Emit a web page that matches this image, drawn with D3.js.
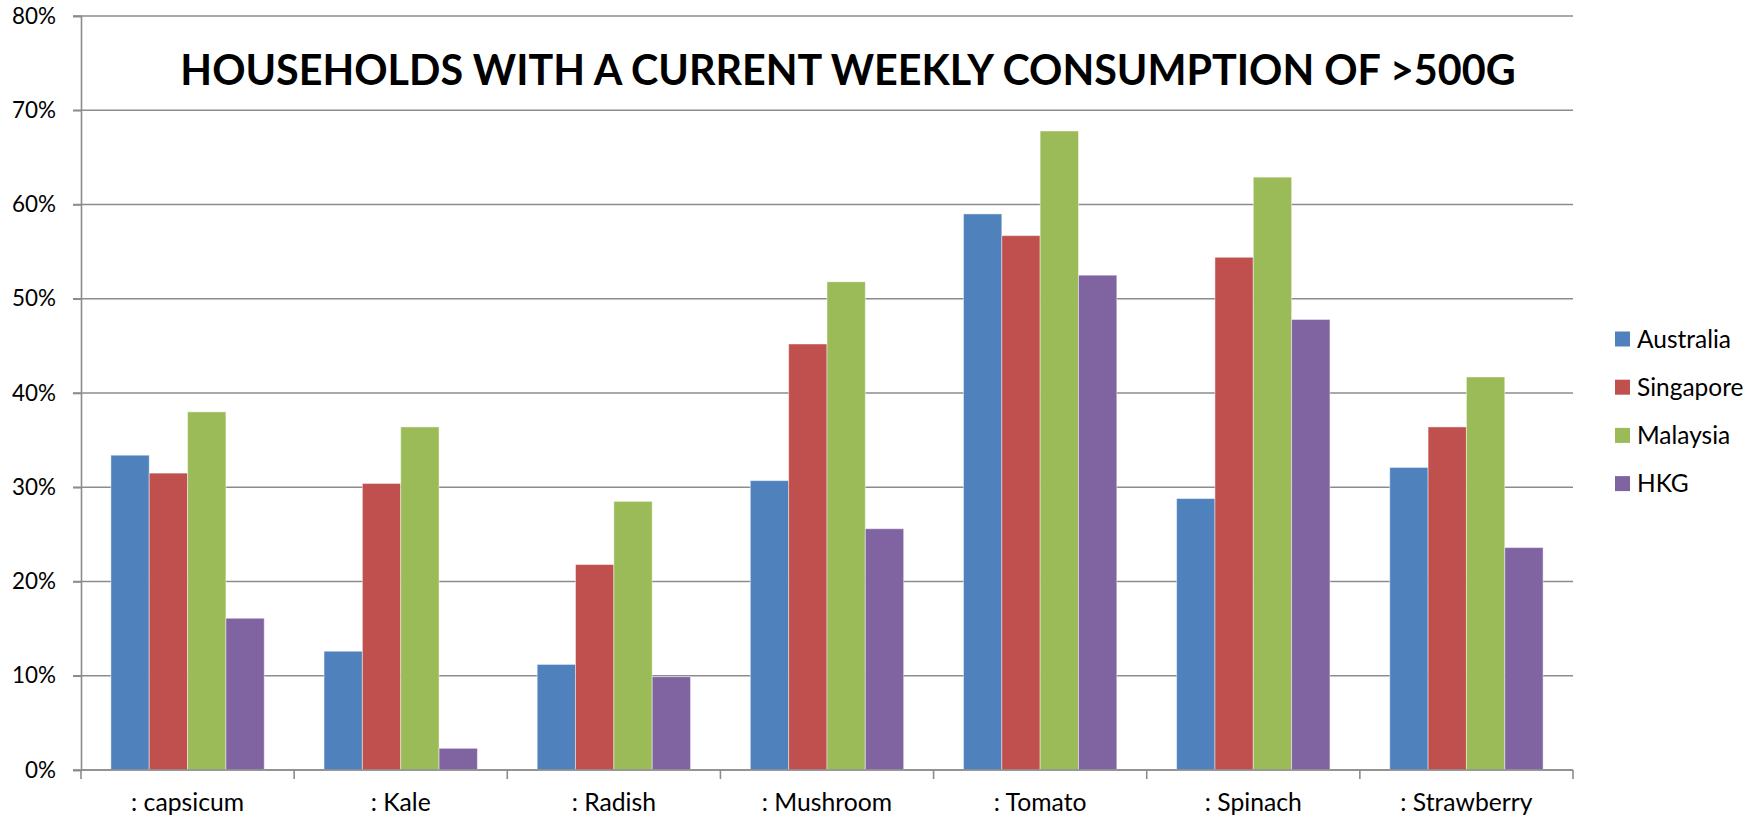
<!DOCTYPE html>
<html>
<head>
<meta charset="utf-8">
<script src="https://cdn.jsdelivr.net/npm/d3@7"></script>
<style>
  html, body { margin: 0; padding: 0; background: #fff; }
  svg { display: block; }
  text { font-family: Lato, "Open Sans", sans-serif; fill: #000; }
</style>
</head>
<body>
<svg id="chart" width="1761" height="818"></svg>
<script>
// Vegetables on the x axis
const categories = [": capsicum", ": Kale", ": Radish", ": Mushroom", ": Tomato", ": Spinach", ": Strawberry"];
// Markets (one bar each per vegetable)
const seriesNames = ["Australia", "Singapore", "Malaysia", "HKG"];
const seriesColors = ["#4F81BD", "#C0504D", "#9BBB59", "#8064A2"];
// Share of households (%) consuming more than 500 g a week
const australia = [33.4, 12.6, 11.2, 30.7, 59.0, 28.8, 32.1];
const singapore = [31.5, 30.4, 21.8, 45.2, 56.7, 54.4, 36.4];
const malaysia  = [38.0, 36.4, 28.5, 51.8, 67.8, 62.9, 41.7];
const hkg       = [16.1, 2.3, 9.9, 25.6, 52.5, 47.8, 23.6];
const yTicks = [0, 10, 20, 30, 40, 50, 60, 70, 80];
const titleText = "HOUSEHOLDS WITH A CURRENT WEEKLY CONSUMPTION OF >500G";

const seriesValues = [australia, singapore, malaysia, hkg];

const svg = d3.select("#chart");
const plot = { left: 81, right: 1573, top: 16, bottom: 770 };
const gridColor = "#8c8c8c";

// font size that makes a sample string span a given width
function fitSize(sample, width, weight) {
  const t = svg.append("text").style("font-size", "20px").style("font-weight", weight || "normal").text(sample);
  const w = t.node().getComputedTextLength();
  t.remove();
  return 20 * width / w;
}
const tickFont = fitSize("80%", 44);
const catFont = fitSize(": capsicum", 113);
const legendFont = fitSize("Australia", 94);
const titleFont = fitSize(titleText, 1336, "bold");

const x = d3.scaleBand().domain(categories).range([plot.left, plot.right]).paddingInner(0).paddingOuter(0);
const xs = d3.scaleBand().domain(seriesNames).range([0, x.bandwidth()]).paddingInner(0).paddingOuter(0.78);
const y = d3.scaleLinear().domain([0, 80]).range([plot.bottom, plot.top]);

// Horizontal gridlines (with the short tick stub left of the axis)
svg.append("g").selectAll("line").data(yTicks).join("line")
  .attr("x1", plot.left - 8).attr("x2", plot.right)
  .attr("y1", d => y(d)).attr("y2", d => y(d))
  .attr("stroke", gridColor).attr("stroke-width", 1.6);

// Bars
const rows = categories.map((c, i) => ({ cat: c, vals: seriesNames.map((s, j) => ({ s, j, v: seriesValues[j][i] })) }));
svg.append("g").selectAll("g").data(rows).join("g")
  .attr("transform", d => `translate(${x(d.cat)},0)`)
  .selectAll("rect").data(d => d.vals).join("rect")
  .attr("x", d => xs(d.s))
  .attr("y", d => y(d.v))
  .attr("width", xs.bandwidth())
  .attr("height", d => y(0) - y(d.v))
  .attr("fill", d => seriesColors[d.j])
  .attr("stroke", "rgba(255,255,255,0.45)")
  .attr("stroke-width", 1);

// Y axis
const yAxis = svg.append("g").attr("transform", `translate(${plot.left},0)`)
  .call(d3.axisLeft(y).tickValues(yTicks).tickSize(8).tickPadding(17).tickFormat(d => d + "%"));
yAxis.select(".domain").attr("stroke", gridColor).attr("stroke-width", 1.6);
yAxis.selectAll(".tick line").attr("stroke", gridColor).attr("stroke-width", 1.6);
yAxis.selectAll(".tick text").style("font-size", tickFont + "px").attr("font-family", null).attr("fill", "#000");

// X axis: labels centred in bands, ticks at band boundaries
const xAxis = svg.append("g").attr("transform", `translate(0,${plot.bottom})`)
  .call(d3.axisBottom(x).tickSize(0).tickPadding(0));
xAxis.select(".domain").remove();
xAxis.selectAll(".tick text").attr("dy", null).attr("y", 41)
  .style("font-size", catFont + "px").attr("font-family", null).attr("fill", "#000");
const bounds = categories.map(c => x(c)).concat([plot.right]);
xAxis.selectAll("line.bound").data(bounds).join("line").attr("class", "bound")
  .attr("x1", d => d).attr("x2", d => d).attr("y1", 0).attr("y2", 9)
  .attr("stroke", gridColor).attr("stroke-width", 1.6);
xAxis.append("line").attr("x1", plot.left).attr("x2", plot.right)
  .attr("y1", 0).attr("y2", 0).attr("stroke", gridColor).attr("stroke-width", 1.6);

// Title
svg.append("text").attr("x", 848).attr("y", 85)
  .attr("text-anchor", "middle").style("font-weight", "bold").style("font-size", titleFont + "px")
  .text(titleText);

// Legend
const legend = svg.append("g").selectAll("g").data(seriesNames).join("g")
  .attr("transform", (d, i) => `translate(1615,${339 + i * 48.2})`);
legend.append("rect").attr("x", 0).attr("y", -7.5).attr("width", 15).attr("height", 15)
  .attr("fill", (d, i) => seriesColors[i]);
legend.append("text").attr("x", 22).attr("y", 0).attr("dy", "0.35em")
  .style("font-size", legendFont + "px").text(d => d);
</script>
</body>
</html>
